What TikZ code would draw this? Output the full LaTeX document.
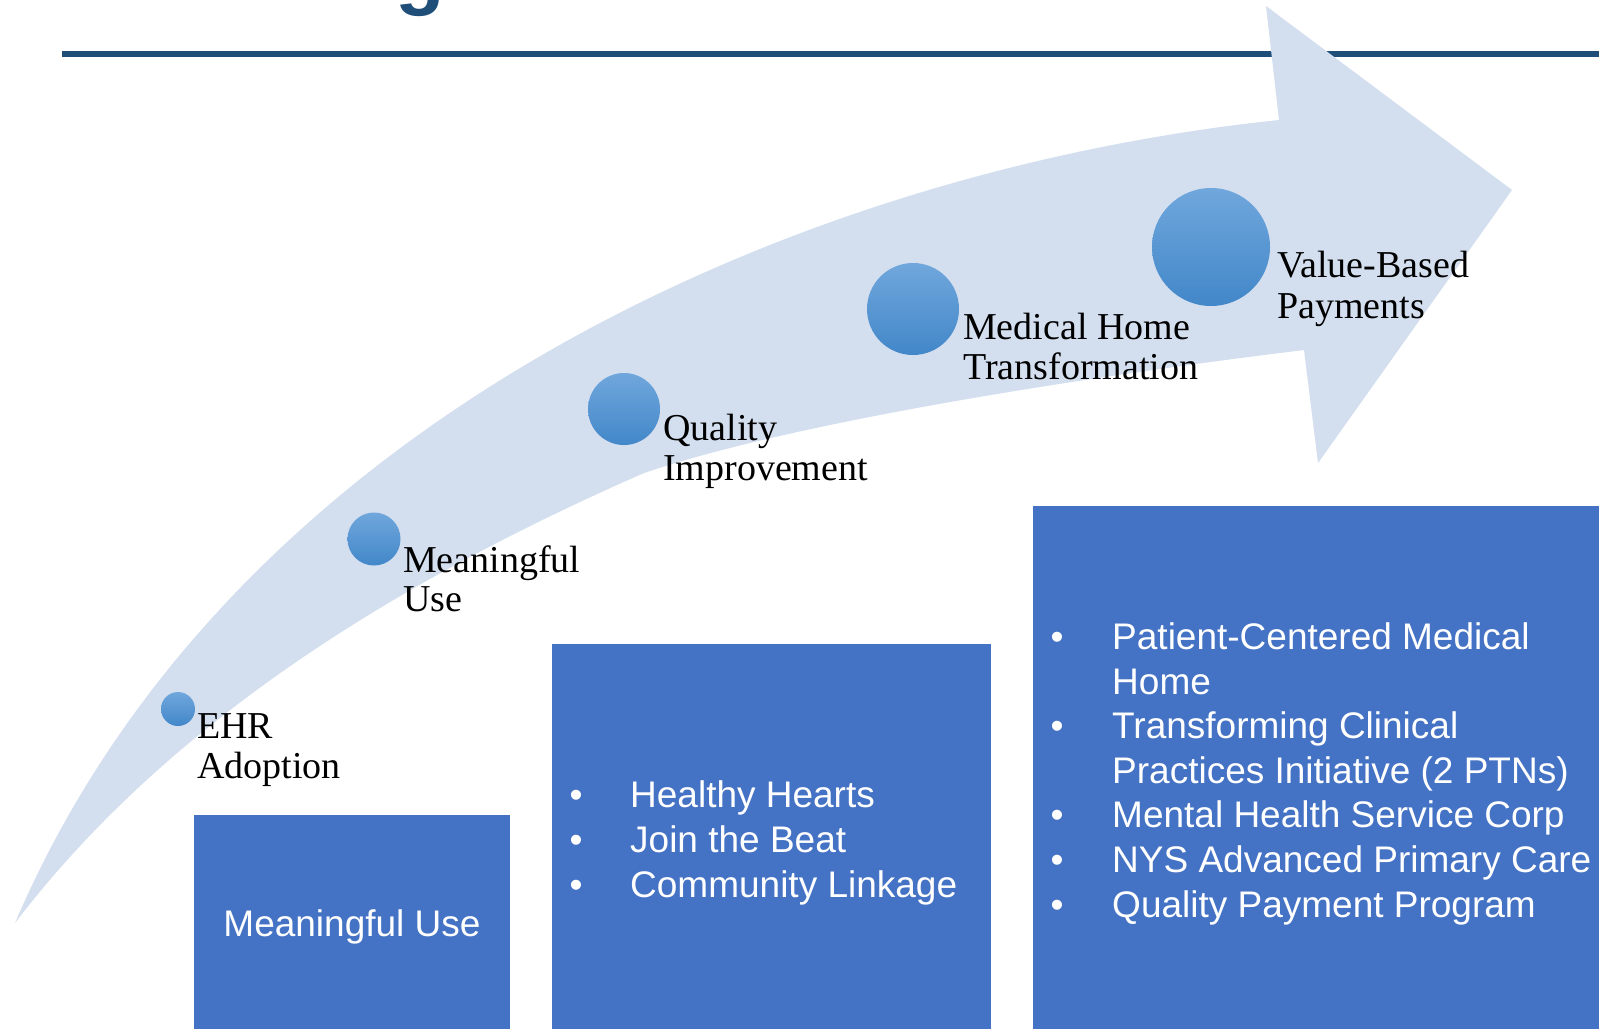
\documentclass[tikz,border=0pt]{standalone}
\usepackage{fontspec}
\setmainfont{Liberation Serif}
\newfontfamily\arialfont{Liberation Sans}
\definecolor{titleblue}{HTML}{1F4E79}
\definecolor{arrowfill}{HTML}{D3DEEF}
\definecolor{panelblue}{HTML}{4472C4}
\definecolor{dottop}{RGB}{112,167,220}
\definecolor{dotbot}{RGB}{66,135,201}
\begin{document}
\begin{tikzpicture}[x=1bp,y=-1bp,
  dot/.style={circle, inner sep=0pt, draw=none, top color=dottop, bottom color=dotbot},
  lbl/.style={anchor=base west, inner sep=0pt, text=black, font=\fontsize{38bp}{40bp}\selectfont},
  panel/.style={anchor=north west, fill=panelblue, draw=none, inner sep=0pt},
  boxtxt/.style={anchor=base west, inner sep=0pt, text=white, font=\arialfont\fontsize{37bp}{44bp}\selectfont},
  bul/.style={anchor=base, inner sep=0pt, text=white, font=\arialfont\fontsize{37bp}{44bp}\selectfont}]
\useasboundingbox (0,0) rectangle (1599,1028);
\clip (0,0) rectangle (1599,1028);
% title fragment and rule
\node[anchor=base west, inner sep=0pt, text=titleblue, font=\arialfont\bfseries\fontsize{81bp}{81bp}\selectfont] (ttl) at (395,-1) {g};
\fill[titleblue] (62,51) rectangle (1610,57);
% curved arrow
\coordinate (tail) at (15,923);
\fill[arrowfill] (tail) .. controls (230,420) and (800,170) .. (1279,120)
  -- (1266,6) -- (1512,190) -- (1318,463) -- (1304,350)
  .. controls (1100,375) and (800,420) .. (644,473)
  .. controls (400,580) and (170,720) .. (tail) -- cycle;
% milestones
\node[dot, minimum size=34bp] (c1) at (178,709) {};
\node[dot, minimum size=53bp] (c2) at (374,539) {};
\node[dot, minimum size=72bp] (c3) at (624,409) {};
\node[dot, minimum size=92bp] (c4) at (913,309) {};
\node[dot, minimum size=118bp] (c5) at (1211,247) {};
\node[lbl] (l1a) at (197,738) {EHR};
\node[lbl] (l1b) at (197,778) {Adoption};
\node[lbl] (l2a) at (403,572) {Meaningful};
\node[lbl] (l2b) at (403,611) {Use};
\node[lbl] (l3a) at (663,440) {Quality};
\node[lbl] (l3b) at (663,480) {Improvement};
\node[lbl] (l4a) at (963,339) {Medical Home};
\node[lbl] (l4b) at (963,379) {Transformation};
\node[lbl] (l5a) at (1277,277) {Value-Based};
\node[lbl] (l5b) at (1277,318) {Payments};
% panels
\node[panel, minimum width=316bp, minimum height=230bp] (b1) at (194,815) {};
\node[panel, minimum width=439bp, minimum height=400bp] (b2) at (552,644) {};
\node[panel, minimum width=600bp, minimum height=540bp] (b3) at (1033,506) {};
\node[boxtxt, anchor=base] (t1) at (352,936) {Meaningful Use};
\node[bul] (p1) at (576,807) {•};
\node[bul] (p2) at (576,852) {•};
\node[bul] (p3) at (576,897) {•};
\node[boxtxt] (s1) at (630,807) {Healthy Hearts};
\node[boxtxt] (s2) at (630,852) {Join the Beat};
\node[boxtxt] (s3) at (630,897) {Community Linkage};
\node[bul] (q1) at (1057,649) {•};
\node[bul] (q2) at (1057,738) {•};
\node[bul] (q3) at (1057,827) {•};
\node[bul] (q4) at (1057,872) {•};
\node[bul] (q5) at (1057,917) {•};
\node[boxtxt] (r1) at (1112,649) {Patient-Centered Medical};
\node[boxtxt] (r1b) at (1112,694) {Home};
\node[boxtxt] (r2) at (1112,738) {Transforming Clinical};
\node[boxtxt] (r2b) at (1112,783) {Practices Initiative (2 PTNs)};
\node[boxtxt] (r3) at (1112,827) {Mental Health Service Corp};
\node[boxtxt] (r4) at (1112,872) {NYS Advanced Primary Care};
\node[boxtxt] (r5) at (1112,917) {Quality Payment Program};
\end{tikzpicture}
\end{document}
